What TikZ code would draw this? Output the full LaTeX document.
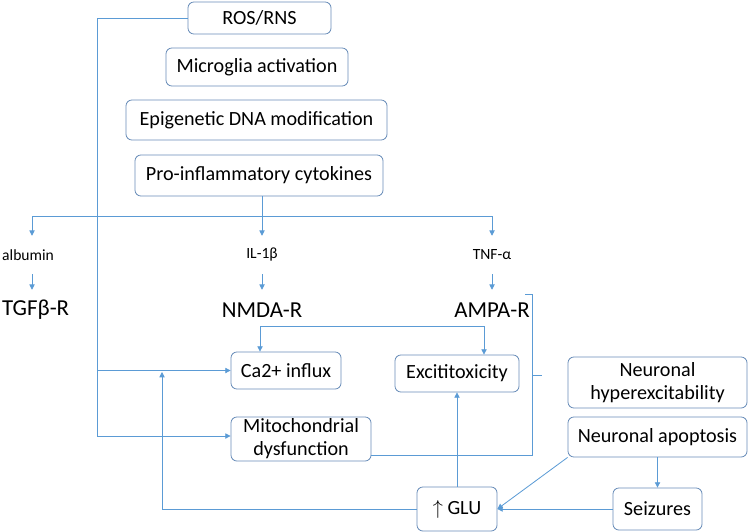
\documentclass[tikz,border=0pt]{standalone}
\usepackage{fontspec}
\setmainfont{Carlito}
\usepackage{tikz}
\usetikzlibrary{positioning}
\usetikzlibrary{calc}
\usetikzlibrary{arrows.meta}

\definecolor{linkblue}{RGB}{91,155,213}
\definecolor{boxblue}{RGB}{104,140,184}

\tikzset{
  block/.style={draw=boxblue,line width=0.7pt,rounded corners=5pt,inner sep=0pt,
    align=center,font=\fontsize{17.2}{19.5}\selectfont},
  tag/.style={inner sep=0pt,minimum height=1.14cm,font=\fontsize{13.3}{15}\selectfont},
  receptor/.style={inner sep=0pt,minimum height=1.2cm,font=\fontsize{19.5}{22}\selectfont},
  link/.style={draw=linkblue,line width=0.7pt},
  >={Triangle[length=4.5pt,width=4.5pt]}
}

\begin{document}
\begin{tikzpicture}[x=0.03cm,y=-0.03cm]
  \useasboundingbox (0,0) rectangle (749,532);
  % upper stack
  \node (ros)   [block,minimum width=4.29cm,minimum height=0.96cm] at (259.5,18)  {ROS/RNS};
  \node (micro) [block,minimum width=5.46cm,minimum height=1.14cm] at (257,67)    {Microglia activation};
  \node (epi)   [block,minimum width=7.83cm,minimum height=1.2cm]  at (256.5,120) {Epigenetic DNA modification};
  \node (pro)   [block,minimum width=7.44cm,minimum height=1.23cm] at (259,175.5) {Pro-inflammatory cytokines};
  % mediators and receptors
  \node (alb)   [tag,anchor=west] at (2,255)  {albumin};
  \node (il)    [tag] at (262,255) {IL-1β};
  \node (tnf)   [tag] at (492,255) {TNF-α};
  \node (tgf)   [receptor,anchor=west] at (2,310)  {TGFβ-R};
  \node (nmda)  [receptor] at (262,310) {NMDA-R};
  \node (ampa)  [receptor] at (492,310) {AMPA-R};
  % lower boxes
  \node (ca)    [block,minimum width=3.3cm,minimum height=1.11cm]  at (286,370.5) {Ca2+ influx};
  \node (exc)   [block,minimum width=3.72cm,minimum height=1.11cm] at (457,373.5) {Excititoxicity};
  \node (mito)  [block,minimum width=4.2cm,minimum height=1.32cm]  at (301,439)   {Mitochondrial\\dysfunction};
  \node (hyper) [block,minimum width=5.37cm,minimum height=1.53cm] at (657.5,382.5) {Neuronal\\hyperexcitability};
  \node (apop)  [block,minimum width=5.37cm,minimum height=1.2cm]  at (657.5,437) {Neuronal apoptosis};
  \node (seiz)  [block,minimum width=2.67cm,minimum height=1.26cm] at (657.5,509) {Seizures};
  \node (glu)   [block,minimum width=2.4cm,minimum height=1.32cm]  at (457,509)   {$\uparrow$ GLU};

  \coordinate (split)     at (262,216);
  \coordinate (albcol)    at (32,0);
  \coordinate (roscorner) at (97,436);
  \coordinate (nmdabar)   at (260,326);
  \coordinate (ampabar)   at (484,326);
  \coordinate (brtop)     at (532,294);
  \coordinate (brtip)     at (542,375);
  \coordinate (glubend)   at (162,372);

  % cytokine branches
  \draw[link] (pro.south -| split) -- (split);
  \draw[link,->] (split) -| (alb.north -| albcol);
  \draw[link,->] (split) -- (il);
  \draw[link,->] (split) -| (tnf);
  \draw[link,->] (alb.south -| albcol) -- (tgf.north -| albcol);
  \draw[link,->] (il) -- (nmda);
  \draw[link,->] (tnf) -- (ampa);
  % receptors to calcium and excitotoxicity
  \draw[link,<->] (ca.north -| nmdabar) -- (nmdabar) -- (ampabar) -- (exc.north -| ampabar);
  % ROS/RNS feed
  \draw[link] (ros.west) -| (roscorner);
  \draw[link,->] (ca.west -| roscorner) -- (ca.west);
  \draw[link,->] (roscorner) -- (roscorner -| mito.west);
  % brace
  \draw[link] ([yshift=-0.48cm]mito.east) -| (brtop) -- ++(-7,0);
  \draw[link] (brtop |- brtip) -- (brtip);
  % glutamate loop
  \draw[link,->] (apop) -- (seiz);
  \draw[link,->] (seiz) -- (glu);
  \draw[link,->] (apop.south west) -- (glu.east);
  \draw[link,->] (glu) -- (exc);
  \draw[link,->] (glu.west) -| (glubend);
\end{tikzpicture}
\end{document}
